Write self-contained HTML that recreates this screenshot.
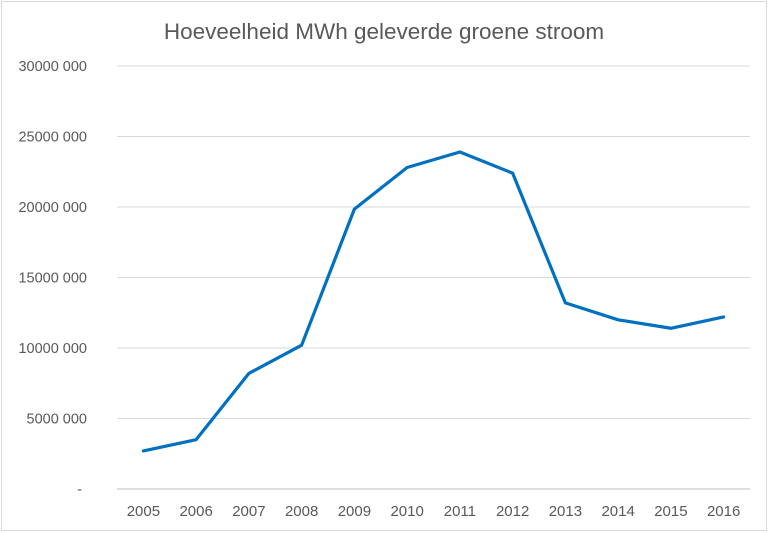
<!DOCTYPE html>
<html><head><meta charset="utf-8"><style>
body{margin:0;background:#fff;}
svg{display:block;font-family:"Liberation Sans",sans-serif;}
</style></head><body>
<svg id="c" width="768" height="533">
<rect x="1.5" y="1.5" width="765" height="529" fill="#fff" stroke="#d9d9d9"/>
<text x="384" y="39" text-anchor="middle" font-size="22.5" fill="#595959">Hoeveelheid MWh geleverde groene stroom</text>
</svg>
<script>
const years=["2005","2006","2007","2008","2009","2010","2011","2012","2013","2014","2015","2016"];
const values=[2.7,3.5,8.2,10.2,19.85,22.8,23.9,22.4,13.2,12.0,11.4,12.2];
const yTicks=[0,5,10,15,20,25,30];
const yTickLabels=["-","5000 000","10000 000","15000 000","20000 000","25000 000","30000 000"];
const svg=document.getElementById('c');
const NS='http://www.w3.org/2000/svg';
const x0=117,x1=750,yb=489,yt=66,maxV=30;
const xs=i=>x0+(x1-x0)/years.length*(i+0.5);
const ys=v=>yb-(yb-yt)*v/maxV;
function mk(t,a){const e=document.createElementNS(NS,t);for(const k in a)e.setAttribute(k,a[k]);svg.appendChild(e);return e;}
yTicks.forEach((v,i)=>{
 const y=ys(v);
 const g=mk('line',{x1:x0,x2:x1,y1:y,y2:y,stroke:i==0?'#bfbfbf':'#d9d9d9','stroke-width':1});
 
 
 const t=mk('text',{x:i==0?82:87,y:y+5,'text-anchor':'end','font-size':14.5,fill:'#595959'});
 t.textContent=yTickLabels[i];
 
 
});
years.forEach((yr,i)=>{
 const t=mk('text',{x:xs(i),y:516,'text-anchor':'middle','font-size':15,fill:'#595959'});
 t.textContent=yr;
 
 
});
const p=mk('polyline',{points:values.map((v,i)=>xs(i)+','+ys(v)).join(' '),fill:'none',stroke:'#0070c0','stroke-width':3.2,'stroke-linejoin':'round','stroke-linecap':'round'});


</script>
</body></html>
